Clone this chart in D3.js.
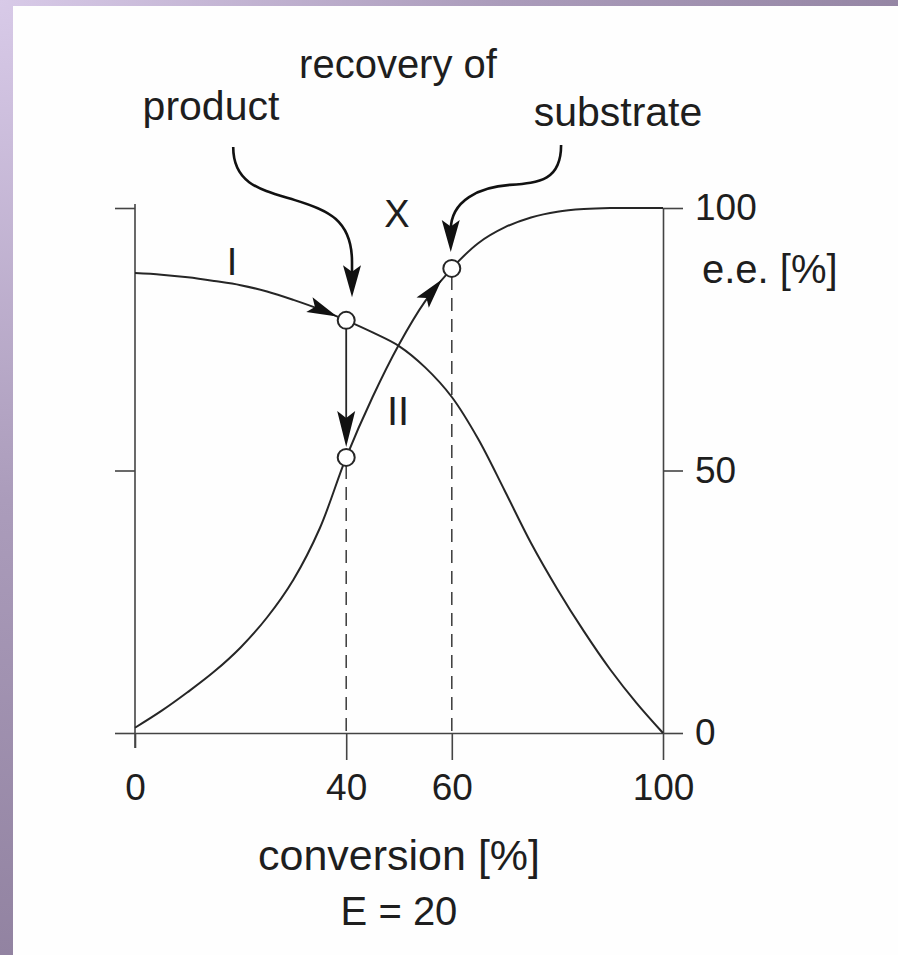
<!DOCTYPE html>
<html>
<head>
<meta charset="utf-8">
<script src="https://cdn.jsdelivr.net/npm/d3@7"></script>
<style>
  html, body { margin:0; padding:0; }
  body { width:898px; height:955px; overflow:hidden;
    background: radial-gradient(circle at 0 0, #d8cae8 0px, #ab9cbb 500px, #8a7b99 1100px); }
  #mysvg { position:absolute; left:0; top:0; }
  text { font-family: "Liberation Sans", Arial, sans-serif; fill:#1e1e1e; }
</style>
</head>
<body>
<svg id="mysvg" width="898" height="955"></svg>
<script>
// conversion [%] and e.e. [%] (E = 20)
var conversion  = [0, 5, 10, 15, 20, 25, 30, 35, 40, 45, 50, 55, 60, 65, 70, 75, 80, 85, 90, 95, 100];
var eeProduct   = [87.6, 87.3, 86.8, 86.1, 85.3, 84.1, 82.5, 80.7, 78.6, 76.3, 73.7, 69.6, 64, 56, 46.2, 36.2, 27.4, 19.4, 12.1, 5.7, 0];
var eeSubstrate = [1, 4.2, 7.8, 11.7, 16.3, 22, 29.2, 39, 52.5, 64, 74, 82.3, 88.5, 93.3, 96.3, 98.2, 99.3, 99.8, 100, 100, 100];

var xTicks = [0, 40, 60, 100];
var yTicks = [0, 50, 100];

// marked points (open circles)
var markC  = [40, 40, 60];
var markEE = [78.6, 52.5, 88.5];

// dashed guides drop from these marks
var guideC   = [40, 60];
var guideTop = [52.5, 88.5];

// callout arrows from the labels, in data units (conversion, e.e.):
// start, ctrl, ctrl, mid, ctrl, end, arrow tip
var productCallout   = [[18.6,111.6],[18.6,104.4],[24.1,103.4],[30.3,101.5],[41.1,97.7],[41.1,89.7],[41.1,83.0]];
var substrateCallout = [[80.7,112.0],[80.7,105.3],[76.7,104.8],[71.0,104.4],[59.8,101.5],[59.8,95.8],[59.8,91.6]];

var svg = d3.select("#mysvg");
svg.append("rect").attr("x", 13).attr("y", 6).attr("width", 885).attr("height", 949).attr("fill", "#fefefe");

var x = d3.scaleLinear().domain([0, 100]).range([135, 663]);
var y = d3.scaleLinear().domain([0, 100]).range([733, 208]);
var ink = "#262626";
var r = 8.5;

// axes
var xAxis = svg.append("g").attr("transform", "translate(0," + y(0) + ")")
  .call(d3.axisBottom(x).tickValues(xTicks).tickSize(27).tickSizeOuter(0).tickPadding(14).tickFormat(d3.format("d")));
xAxis.selectAll(".tick").filter(function(d) { return d === 0; }).select("line").attr("y2", 15);

var leftAxis = svg.append("g").attr("transform", "translate(" + x(0) + ",0)")
  .call(d3.axisLeft(y).tickValues(yTicks).tickSize(20).tickSizeOuter(0).tickFormat(""));

var rightAxis = svg.append("g").attr("transform", "translate(" + x(100) + ",0)")
  .call(d3.axisRight(y).tickValues(yTicks).tickSize(20).tickSizeOuter(0).tickPadding(12));

[xAxis, leftAxis, rightAxis].forEach(function(a) {
  a.selectAll("path, line").attr("stroke", "#444").attr("stroke-width", 1.6);
  a.selectAll("text").attr("font-size", 37).attr("fill", "#1e1e1e")
    .attr("font-family", "Liberation Sans, Arial, sans-serif");
});
leftAxis.select(".domain").attr("d", "M0," + (y(100) - 4) + "V" + (y(0) + 15));

// dashed guides
svg.append("g").selectAll("line").data(guideC).enter().append("line")
  .attr("x1", function(d) { return x(d); })
  .attr("x2", function(d) { return x(d); })
  .attr("y1", function(d, i) { return y(guideTop[i]) + r; })
  .attr("y2", y(0))
  .attr("stroke", "#3a3a3a").attr("stroke-width", 1.5).attr("stroke-dasharray", "13,8");

// curves
var line = d3.line().curve(d3.curveCatmullRom.alpha(0.5))
  .x(function(d) { return x(d[0]); })
  .y(function(d) { return y(d[1]); });

var prodPath = svg.append("path")
  .datum(conversion.map(function(c, i) { return [c, eeProduct[i]]; }))
  .attr("d", line).attr("fill", "none").attr("stroke", ink).attr("stroke-width", 2);
var subPath = svg.append("path")
  .datum(conversion.map(function(c, i) { return [c, eeSubstrate[i]]; }))
  .attr("d", line).attr("fill", "none").attr("stroke", ink).attr("stroke-width", 2);

function lengthAtX(node, px) {
  var lo = 0, hi = node.getTotalLength();
  for (var i = 0; i < 40; i++) {
    var mid = (lo + hi) / 2;
    if (node.getPointAtLength(mid).x < px) lo = mid; else hi = mid;
  }
  return lo;
}

function arrowHead(px, py, angle, len, half) {
  svg.append("path")
    .attr("d", "M0,0L" + (-len) + "," + (-half) + "L" + (-len * 0.8) + ",0L" + (-len) + "," + half + "Z")
    .attr("transform", "translate(" + px + "," + py + ") rotate(" + angle + ")")
    .attr("fill", "#111");
}

function arrowAlong(node, c, back) {
  var L = lengthAtX(node, x(c)) - back;
  var p = node.getPointAtLength(L), q = node.getPointAtLength(L - 4);
  arrowHead(p.x, p.y, Math.atan2(p.y - q.y, p.x - q.x) * 180 / Math.PI, 30, 8);
}

// arrow I along product curve, arrow along substrate curve
arrowAlong(prodPath.node(), markC[0], 10);
arrowAlong(subPath.node(), markC[2], 15);

// vertical arrow II: product mark -> substrate mark
var tipY = y(markEE[1]) - r - 2;
svg.append("line")
  .attr("x1", x(markC[0])).attr("x2", x(markC[0]))
  .attr("y1", y(markEE[0]) + r).attr("y2", tipY - 20)
  .attr("stroke", ink).attr("stroke-width", 1.8);
arrowHead(x(markC[0]), tipY, 90, 36, 9);

// callouts (two joined cubic curves, then a short straight drop)
[productCallout, substrateCallout].forEach(function(pts) {
  var p = pts.map(function(d) { return [x(d[0]), y(d[1])]; });
  var mirror = [2 * p[3][0] - p[2][0], 2 * p[3][1] - p[2][1]];
  var path = d3.path();
  path.moveTo(p[0][0], p[0][1]);
  path.bezierCurveTo(p[1][0], p[1][1], p[2][0], p[2][1], p[3][0], p[3][1]);
  path.bezierCurveTo(mirror[0], mirror[1], p[4][0], p[4][1], p[5][0], p[5][1]);
  path.lineTo(p[6][0], p[6][1] - 20);
  svg.append("path").attr("d", path.toString())
    .attr("fill", "none").attr("stroke", "#111").attr("stroke-width", 2.6);
  arrowHead(p[6][0], p[6][1], 90, 32, 9);
});

// marks
svg.append("g").selectAll("circle").data(markC).enter().append("circle")
  .attr("cx", function(d) { return x(d); })
  .attr("cy", function(d, i) { return y(markEE[i]); })
  .attr("r", r).attr("fill", "#fff").attr("stroke", ink).attr("stroke-width", 2);

// labels
function label(txt, px, py, size, anchor) {
  svg.append("text").attr("x", px).attr("y", py).attr("text-anchor", anchor || "middle")
    .attr("font-size", size).text(txt);
}
label("recovery of", 398, 78, 40);
label("product", 211, 120, 41);
label("substrate", 618, 126, 41);
label("X", 397, 227, 38);
label("I", 232, 275, 38);
label("II", 398, 425, 40);
label("e.e. [%]", 702, 283, 40, "start");
label("conversion [%]", x(50), 870, 43);
label("E = 20", x(50), 925, 40);
</script>
</body>
</html>
